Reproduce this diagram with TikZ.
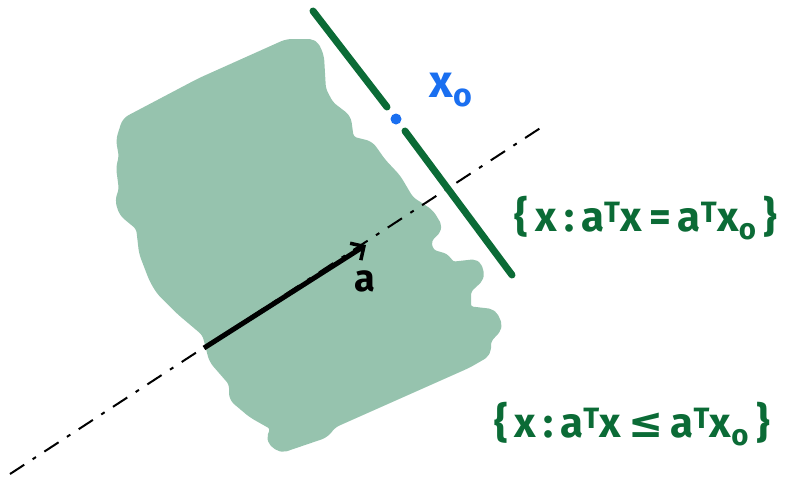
\documentclass[tikz,border=0pt]{standalone}
\usepackage{fontspec}
\setmainfont{Fira Sans}
\newfontfamily\djv{DejaVu Sans}
\usetikzlibrary{arrows.meta}
\definecolor{shade}{HTML}{96C3AE}
\definecolor{dgreen}{HTML}{0B6B36}
\definecolor{xblue}{HTML}{1A6FF0}
\tikzset{
  plane/.style={draw=dgreen, line width=7pt, line cap=round},
  axis/.style={draw=black, line width=2pt, dash pattern=on 17pt off 10pt on 4pt off 10pt},
  vec/.style={draw=black, line width=5pt, -{Straight Barb[length=10pt,width=20pt,line width=3.5pt]}},
  lbl/.style={text=dgreen, font=\bfseries\fontsize{42}{50}\selectfont, inner sep=0pt},
}
\begin{document}
\begin{tikzpicture}[x=1pt,y=-1pt]
\useasboundingbox (0,0) rectangle (789,480);
% shaded half-space
\filldraw[fill=shade, draw=shade, line width=8pt, line join=round, rounded corners=5pt]
 (126,121) -- (200,82) -- (287,43) -- (314,43) -- (320,56) -- (322,90) -- (330,105) -- (347,118)
 -- (350,140) -- (370,145) -- (382,162) -- (397,178) -- (410,200) -- (430,213) -- (439,228)
 -- (427,240) -- (430,253) -- (447,258) -- (450,266) -- (477,263) -- (481,277) -- (467,290)
 -- (467,310) -- (493,313) -- (499,327) -- (487,340) -- (487,353) -- (468,364) -- (333,424)
 -- (325,434) -- (281,449) -- (270,440) -- (275,427) -- (252,414) -- (233,398) -- (233,383)
 -- (213,360) -- (206,333) -- (180,311) -- (160,291) -- (153,279) -- (143,253) -- (140,227)
 -- (123,213) -- (119,200) -- (123,190) -- (120,167) -- (123,157) -- (120,140) -- cycle;
% normal direction line
\coordinate (l0) at (10,474);
\coordinate (l1) at (545,125);
\draw[axis] (l0) -- (l1);
% hyperplane
\coordinate (p0) at (313,11);
\coordinate (p1) at (387,107);
\coordinate (p2) at (405,131);
\coordinate (p3) at (512,275);
\draw[plane] (p0) -- (p1);
\draw[plane] (p2) -- (p3);
% point x0
\node[circle, fill=xblue, inner sep=0pt, minimum size=11pt] (x0) at (396,119) {};
\node[text=xblue, font=\bfseries\fontsize{46}{50}\selectfont, inner sep=0pt] (x0l) at (451,90) {x\textsubscript{o}};
% vector a
\coordinate (a0) at (204,348);
\coordinate (a1) at (366,245);
\draw[vec] (a0) -- (a1);
\node[font=\bfseries\fontsize{38}{44}\selectfont, inner sep=0pt] (al) at (365,281) {a};
% labels
\node[lbl] (eq) at (646,218) {\{\,x\,:\,a\textsuperscript{T}x\,=\,a\textsuperscript{T}x\textsubscript{o}\,\}};
\node[lbl] (le) at (632,424) {\{\,x\,:\,a\textsuperscript{T}x\,{\djv ≤}\,a\textsuperscript{T}x\textsubscript{o}\,\}};
\end{tikzpicture}
\end{document}
